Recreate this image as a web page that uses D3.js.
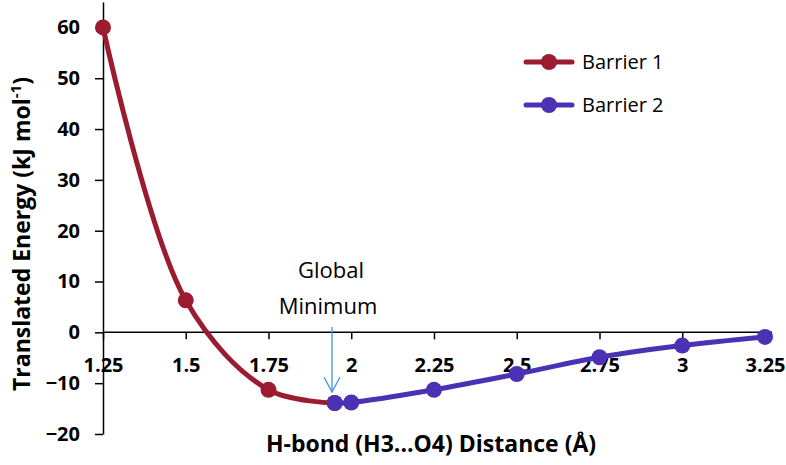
<!DOCTYPE html>
<html>
<head>
<meta charset="utf-8">
<script src="https://cdn.jsdelivr.net/npm/d3@7"></script>
<style>
  body { margin: 0; background: #fff; }
  svg { display: block; font-family: "Open Sans", Lato, sans-serif; }
</style>
</head>
<body>
<svg id="chart" width="786" height="465"></svg>
<script>
// distances (Å) and translated energies (kJ/mol)
var barrier1X = [1.25, 1.5, 1.75, 1.95];
var barrier1Y = [60.0, 6.3, -11.3, -13.9];
var barrier2X = [1.95, 2.0, 2.25, 2.5, 2.75, 3.0, 3.25];
var barrier2Y = [-13.9, -13.8, -11.3, -8.2, -4.9, -2.6, -0.9];
var xTicks = [1.25, 1.5, 1.75, 2, 2.25, 2.5, 2.75, 3, 3.25];
var yTicks = [-20, -10, 0, 10, 20, 30, 40, 50, 60];
var seriesNames = ['Barrier 1', 'Barrier 2'];
var seriesColors = ['#9b1b30', '#4b32b4'];

var FONT = '"Open Sans", Lato, sans-serif';
var svg = d3.select('#chart');

var x = d3.scaleLinear().domain([1.25, 3.25]).range([103, 765]);
var y = d3.scaleLinear().domain([-20, 65]).range([434, 2]);

// y axis, ticks to the left
var yAxis = svg.append('g')
  .attr('transform', 'translate(' + x(1.25) + ',0)')
  .call(d3.axisLeft(y).tickValues(yTicks).tickSize(8).tickSizeOuter(0).tickFormat(d3.format('d')));
yAxis.select('.domain').attr('stroke', '#000').attr('stroke-width', 1.5);
yAxis.selectAll('.tick line').attr('stroke', '#000').attr('stroke-width', 1.5);
yAxis.selectAll('.tick text')
  .attr('x', -23)
  .attr('font-size', 20).attr('font-weight', 'bold').attr('fill', '#000')
  .attr('font-family', FONT);

// x axis crosses at y = 0, ticks hang below, labels lower down
var xAxis = svg.append('g')
  .attr('transform', 'translate(0,' + y(0) + ')')
  .call(d3.axisBottom(x).tickValues(xTicks).tickSize(7).tickSizeOuter(0).tickFormat(function (d) { return String(d); }));
xAxis.select('.domain').attr('stroke', '#000').attr('stroke-width', 1.5)
  .attr('d', 'M' + x(1.25) + ',0H772');
xAxis.selectAll('.tick line').attr('stroke', '#000').attr('stroke-width', 1.5);
xAxis.selectAll('.tick text')
  .attr('y', 25)
  .attr('font-size', 20).attr('font-weight', 'bold').attr('fill', '#000')
  .attr('font-family', FONT);

// axis titles
var yTitle = svg.append('text')
  .attr('transform', 'translate(30,' + 234 + ') rotate(-90)')
  .attr('text-anchor', 'middle')
  .attr('font-size', 23).attr('font-weight', 'bold');
yTitle.append('tspan').text('Translated Energy (kJ mol');
yTitle.append('tspan').attr('font-size', 15).attr('dy', -9).text('-1');
yTitle.append('tspan').attr('dy', 9).text(')');

svg.append('text')
  .attr('x', 431).attr('y', 452)
  .attr('text-anchor', 'middle')
  .attr('font-size', 23).attr('font-weight', 'bold')
  .text('H-bond (H3...O4) Distance (Å)');

// series
var series = [
  { xs: barrier1X, ys: barrier1Y },
  { xs: barrier2X, ys: barrier2Y }
];
var line = d3.line()
  .x(function (d) { return x(d[0]); })
  .y(function (d) { return y(d[1]); })
  .curve(d3.curveCatmullRom.alpha(0.5));

series.forEach(function (s, k) {
  var pts = d3.zip(s.xs, s.ys);
  var g = svg.append('g');
  g.append('path')
    .datum(pts)
    .attr('d', line)
    .attr('fill', 'none')
    .attr('stroke', seriesColors[k])
    .attr('stroke-width', 5)
    .attr('stroke-linejoin', 'round');
  g.selectAll('circle')
    .data(pts)
    .enter()
    .append('circle')
    .attr('cx', function (d) { return x(d[0]); })
    .attr('cy', function (d) { return y(d[1]); })
    .attr('r', 8)
    .attr('fill', seriesColors[k]);
});

// legend
seriesNames.forEach(function (name, k) {
  var ly = 62 + k * 43;
  var g = svg.append('g');
  g.append('line')
    .attr('x1', 526).attr('x2', 572)
    .attr('y1', ly).attr('y2', ly)
    .attr('stroke', seriesColors[k]).attr('stroke-width', 5)
    .attr('stroke-linecap', 'round');
  g.append('circle')
    .attr('cx', 549).attr('cy', ly).attr('r', 8)
    .attr('fill', seriesColors[k]);
  g.append('text')
    .attr('x', 582).attr('y', ly + 7)
    .attr('font-size', 20)
    .text(name);
});

// global minimum annotation
var annX = 332;
svg.append('text')
  .attr('x', annX - 1).attr('y', 278)
  .attr('text-anchor', 'middle').attr('font-size', 22)
  .text('Global');
svg.append('text')
  .attr('x', annX - 4).attr('y', 314)
  .attr('text-anchor', 'middle').attr('font-size', 22)
  .text('Minimum');
svg.append('line')
  .attr('x1', annX).attr('x2', annX)
  .attr('y1', 327).attr('y2', 392)
  .attr('stroke', '#4a90e2').attr('stroke-width', 1.3);
svg.append('path')
  .attr('d', 'M' + (annX - 8) + ',377L' + annX + ',392L' + (annX + 8) + ',377')
  .attr('fill', 'none')
  .attr('stroke', '#4a90e2').attr('stroke-width', 1.3);
</script>
</body>
</html>
